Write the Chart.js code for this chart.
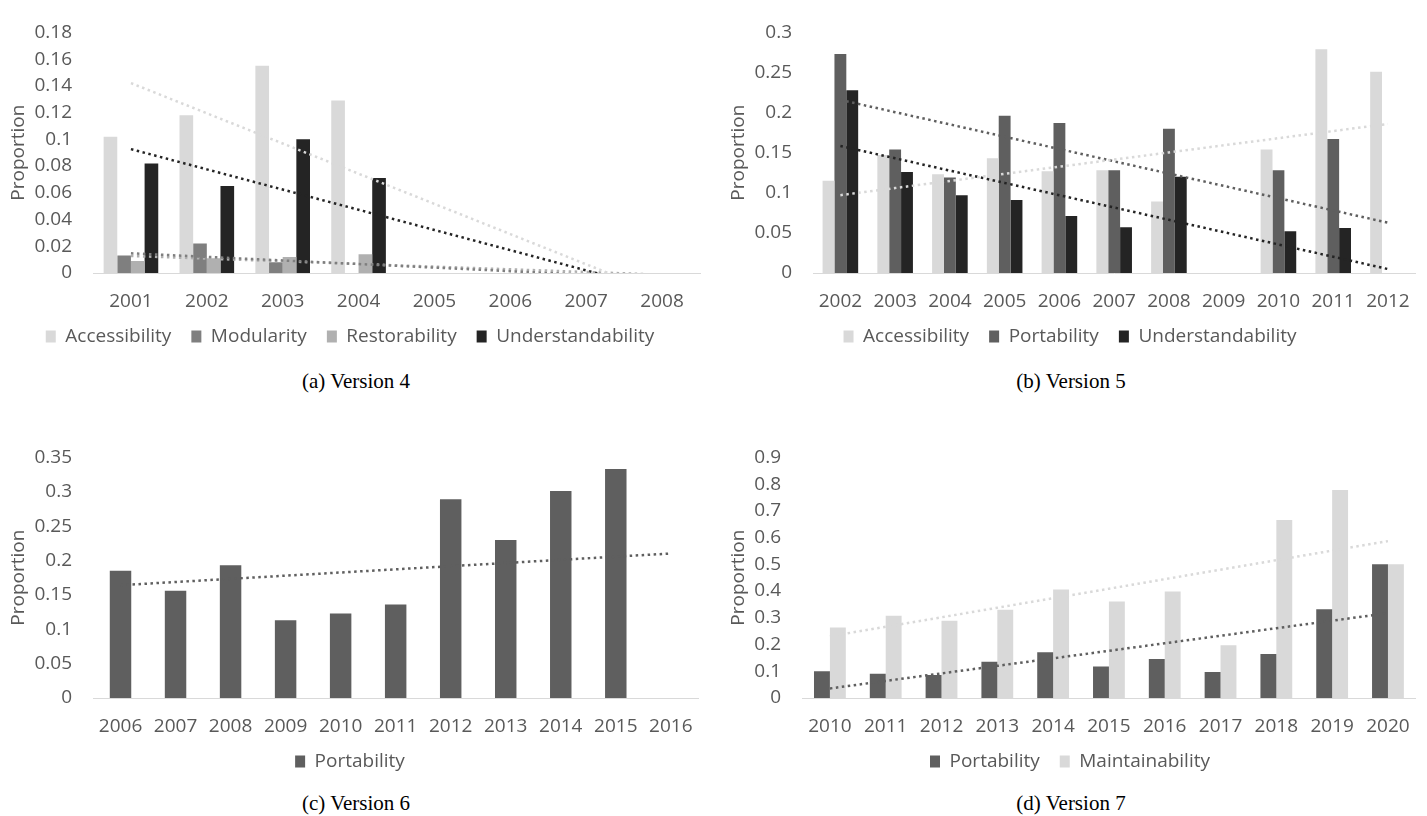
<!DOCTYPE html>
<html>
<head>
<meta charset="utf-8">
<title>Proportion by year, versions 4 to 7</title>
<script src="https://cdn.jsdelivr.net/npm/chart.js@4.4.1/dist/chart.umd.min.js"></script>
<style>
  html, body { margin: 0; padding: 0; background: #ffffff; }
  body { position: relative; width: 1427px; height: 816px; overflow: hidden; }
  canvas { position: absolute; }
  .caption {
    position: absolute; width: 400px; text-align: center;
    font-family: "Liberation Serif", "Times New Roman", serif;
    font-size: 21px; line-height: 24px; color: #000000;
  }
</style>
</head>
<body>
<canvas id="v4" width="710" height="356" style="left:0px;top:0px"></canvas>
<canvas id="v5" width="707" height="356" style="left:720px;top:0px"></canvas>
<canvas id="v6" width="710" height="356" style="left:0px;top:425px"></canvas>
<canvas id="v7" width="707" height="356" style="left:720px;top:425px"></canvas>
<div class="caption" style="left:156px;top:369px">(a) Version 4</div>
<div class="caption" style="left:871px;top:369px">(b) Version 5</div>
<div class="caption" style="left:156px;top:791px">(c) Version 6</div>
<div class="caption" style="left:871px;top:791px">(d) Version 7</div>

<script>
// ---- Version 4 ----
const years4 = ['2001', '2002', '2003', '2004', '2005', '2006', '2007', '2008'];
const v4Accessibility = [0.102, 0.118, 0.155, 0.129, 0, 0, 0, 0];
const v4Modularity = [0.013, 0.022, 0.008, 0, 0, 0, 0, 0];
const v4Restorability = [0.009, 0.011, 0.012, 0.014, 0, 0, 0, 0];
const v4Understandability = [0.082, 0.065, 0.100, 0.071, 0, 0, 0, 0];
const v4Ticks = [0, 0.02, 0.04, 0.06, 0.08, 0.1, 0.12, 0.14, 0.16, 0.18];

// ---- Version 5 ----
const years5 = ['2002', '2003', '2004', '2005', '2006', '2007', '2008', '2009', '2010', '2011', '2012'];
const v5Accessibility = [0.115, 0.147, 0.123, 0.143, 0.127, 0.128, 0.089, 0, 0.154, 0.279, 0.251];
const v5Portability = [0.273, 0.154, 0.119, 0.196, 0.187, 0.128, 0.180, 0, 0.128, 0.167, 0];
const v5Understandability = [0.228, 0.126, 0.097, 0.091, 0.071, 0.057, 0.120, 0, 0.052, 0.056, 0];
const v5Ticks = [0, 0.05, 0.1, 0.15, 0.2, 0.25, 0.3];

// ---- Version 6 ----
const years6 = ['2006', '2007', '2008', '2009', '2010', '2011', '2012', '2013', '2014', '2015', '2016'];
const v6Portability = [0.185, 0.156, 0.193, 0.113, 0.123, 0.136, 0.289, 0.230, 0.301, 0.333, 0];
const v6Ticks = [0, 0.05, 0.1, 0.15, 0.2, 0.25, 0.3, 0.35];

// ---- Version 7 ----
const years7 = ['2010', '2011', '2012', '2013', '2014', '2015', '2016', '2017', '2018', '2019', '2020'];
const v7Portability = [0.100, 0.091, 0.086, 0.136, 0.171, 0.118, 0.146, 0.097, 0.165, 0.332, 0.500];
const v7Maintainability = [0.264, 0.308, 0.289, 0.330, 0.406, 0.361, 0.398, 0.197, 0.666, 0.778, 0.500];
const v7Ticks = [0, 0.1, 0.2, 0.3, 0.4, 0.5, 0.6, 0.7, 0.8, 0.9];

// Series colours
const LIGHT = '#d9d9d9';
const MID = '#7f7f7f';
const SOFT = '#b0b0b0';
const DARK = '#5f5f5f';
const BLACK = '#242424';

Chart.defaults.font.family = '"Open Sans", "DejaVu Sans", sans-serif';
Chart.defaults.font.size = 19;
Chart.defaults.color = '#595959';
Chart.defaults.animation = false;

// Linear least-squares trend line of a series, evaluated at each category
function linearTrend(values) {
  const n = values.length;
  const mx = (n - 1) / 2;
  const my = values.reduce((a, b) => a + b, 0) / n;
  let sxy = 0, sxx = 0;
  values.forEach((v, i) => { sxy += (i - mx) * (v - my); sxx += (i - mx) * (i - mx); });
  const slope = sxy / sxx;
  return values.map((_, i) => my + slope * (i - mx));
}

function drawPanel(canvasId, panel) {
  const datasets = panel.series.map(s => ({
    type: 'bar',
    label: s.label,
    data: s.data,
    backgroundColor: s.color,
    borderWidth: 0,
    barPercentage: 1,
    categoryPercentage: panel.groupWidth,
    order: 2
  }));
  panel.series.forEach(s => {
    datasets.push({
      type: 'line',
      label: s.label + ' trend',
      data: linearTrend(s.data),
      borderColor: s.color,
      borderWidth: 2.5,
      borderDash: [2.5, 3.5],
      pointRadius: 0,
      fill: false,
      tension: 0,
      order: 1
    });
  });

  new Chart(document.getElementById(canvasId), {
    type: 'bar',
    data: { labels: panel.labels, datasets },
    options: {
      responsive: false,
      animation: false,
      layout: { padding: { top: 17, right: panel.padRight, left: 0, bottom: 0 } },
      scales: {
        x: {
          grid: { display: false, drawTicks: false },
          border: { display: true, color: '#d9d9d9', width: 1 },
          ticks: { padding: 17, maxRotation: 0, autoSkip: false },
          afterFit: s => { s.height = 34; }
        },
        y: {
          min: 0,
          max: panel.ticks[panel.ticks.length - 1],
          grid: { display: false, drawTicks: false },
          border: { display: false },
          ticks: { padding: 21, autoSkip: false, callback: v => String(v) },
          afterBuildTicks: s => { s.ticks = panel.ticks.map(v => ({ value: v })); },
          afterFit: s => { s.width = panel.yWidth; },
          title: { display: true, text: 'Proportion', padding: { top: 7, bottom: 0 }, font: { size: 19 } }
        }
      },
      plugins: {
        legend: {
          position: 'bottom',
          labels: {
            boxWidth: 10,
            boxHeight: 12,
            padding: 20,
            filter: (item, data) => data.datasets[item.datasetIndex].type === 'bar'
          }
        },
        tooltip: { enabled: false }
      }
    }
  });
}

drawPanel('v4', {
  labels: years4,
  ticks: v4Ticks,
  yWidth: 93, padRight: 10, groupWidth: 0.72,
  series: [
    { label: 'Accessibility', data: v4Accessibility, color: LIGHT },
    { label: 'Modularity', data: v4Modularity, color: MID },
    { label: 'Restorability', data: v4Restorability, color: SOFT },
    { label: 'Understandability', data: v4Understandability, color: BLACK }
  ]
});

drawPanel('v5', {
  labels: years5,
  ticks: v5Ticks,
  yWidth: 93, padRight: 7, groupWidth: 0.65,
  series: [
    { label: 'Accessibility', data: v5Accessibility, color: LIGHT },
    { label: 'Portability', data: v5Portability, color: DARK },
    { label: 'Understandability', data: v5Understandability, color: BLACK }
  ]
});

drawPanel('v6', {
  labels: years6,
  ticks: v6Ticks,
  yWidth: 93, padRight: 10, groupWidth: 0.39,
  series: [
    { label: 'Portability', data: v6Portability, color: DARK }
  ]
});

drawPanel('v7', {
  labels: years7,
  ticks: v7Ticks,
  yWidth: 82, padRight: 7, groupWidth: 0.57,
  series: [
    { label: 'Portability', data: v7Portability, color: DARK },
    { label: 'Maintainability', data: v7Maintainability, color: LIGHT }
  ]
});
</script>
</body>
</html>
